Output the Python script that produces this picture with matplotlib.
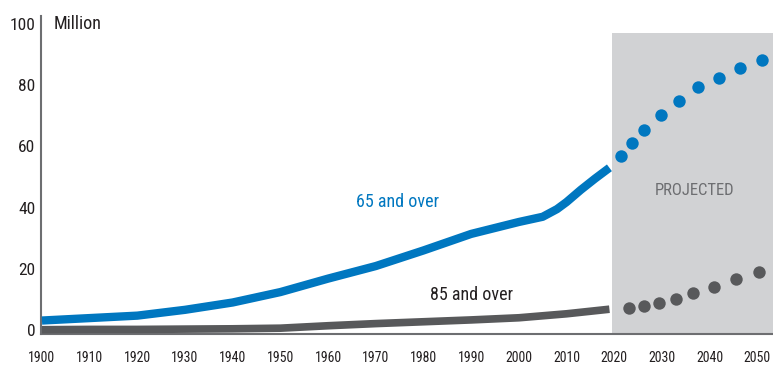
import matplotlib
matplotlib.use('Agg')
import matplotlib.pyplot as plt
from matplotlib import font_manager

# narrow face if we have one
names = sorted({f.name for f in font_manager.fontManager.ttflist})
narrow = [n for n in ['Roboto Condensed', 'Liberation Sans Narrow', 'Open Sans Condensed',
                      'DejaVu Sans Condensed', 'Noto Sans Condensed'] if n in names]
narrow += [n for n in names if ('Condensed' in n or 'Narrow' in n) and n not in narrow]
plt.rcParams['font.family'] = narrow[:1] + ['DejaVu Sans']

# 65+ and 85+ population, millions
years_hist = [1900, 1910, 1920, 1930, 1940, 1950, 1960, 1970, 1980, 1990, 2000,
              2005, 2008, 2010, 2013, 2016, 2019]
pop65_hist = [3.1, 3.9, 4.7, 6.6, 9.0, 12.4, 16.8, 20.9, 26.0, 31.4, 35.3,
              37.0, 39.5, 41.8, 45.8, 49.5, 53.0]

years85_hist = [1900, 1910, 1920, 1930, 1940, 1950, 1960, 1970, 1980, 1990, 2000, 2010, 2019]
pop85_hist = [0.1, 0.2, 0.2, 0.3, 0.4, 0.6, 1.4, 2.1, 2.7, 3.3, 4.0, 5.3, 6.8]

years65_proj = [2021.4, 2023.7, 2026.2, 2029.8, 2033.5, 2037.5, 2041.9, 2046.3, 2050.9]
pop65_proj = [57.0, 61.2, 65.5, 70.4, 74.9, 79.5, 82.4, 85.7, 88.3]

years85_proj = [2023.1, 2026.2, 2029.4, 2032.9, 2036.5, 2040.9, 2045.5, 2050.3]
pop85_proj = [7.2, 7.8, 8.8, 10.1, 12.1, 14.0, 16.6, 18.9]

xticks = list(range(1900, 2051, 10))
yticks = [0, 20, 40, 60, 80, 100]

blue = '#0077c0'
dark = '#58595b'

fig = plt.figure(figsize=(7.73, 3.66), dpi=100)
ax = fig.add_axes([41/773, 32/366, 732/773, 318/366])

ax.axvspan(2019.6, 2060, ymin=0, ymax=(97 + 1.3) / 103.9, color='#d1d2d4', lw=0, zorder=0)

ax.plot(years_hist, pop65_hist, color=blue, lw=6, solid_capstyle='butt',
        solid_joinstyle='round', zorder=3)
ax.plot(years85_hist, pop85_hist, color=dark, lw=5.5, solid_capstyle='butt',
        solid_joinstyle='round', zorder=3)
ax.scatter(years65_proj, pop65_proj, s=80, color=blue, lw=0, zorder=3)
ax.scatter(years85_proj, pop85_proj, s=80, color=dark, lw=0, zorder=3)

ax.set_xlim(1899.8, 2053.3)
ax.set_ylim(-1.3, 102.6)
ax.set_xticks(xticks)
ax.set_yticks(yticks)
ax.tick_params(axis='x', length=0, labelsize=10, pad=12, labelcolor='#231f20')
ax.tick_params(axis='y', length=0, labelsize=12.5, pad=4, labelcolor='#231f20')

for s in ['top', 'right']:
    ax.spines[s].set_visible(False)
ax.spines['left'].set_color('#6d6e71')
ax.spines['left'].set_linewidth(1.5)
ax.spines['bottom'].set_color('#6d6e71')
ax.spines['bottom'].set_linewidth(1.5)

ax.text(1902.5, 100, 'Million', fontsize=13, va='center', ha='left', color='#231f20')
ax.text(1974.6, 41.7, '65 and over', fontsize=13, color=blue, ha='center', va='center')
ax.text(1990.1, 11.4, '85 and over', fontsize=13, color='#231f20', ha='center', va='center')
ax.text(2036.9, 45.6, 'PROJECTED', fontsize=12, color='#6d6e71', ha='center', va='center')

fig.savefig('out.png', dpi=100)
